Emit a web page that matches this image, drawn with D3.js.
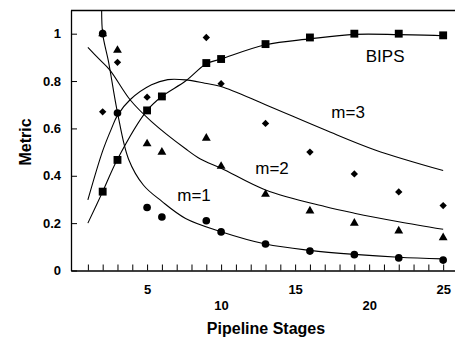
<!DOCTYPE html>
<html>
<head>
<meta charset="utf-8">
<script src="https://cdn.jsdelivr.net/npm/d3@7"></script>
<style>
  body { margin: 0; background: #fff; }
  svg { display: block; font-family: "Liberation Sans", Arial, Helvetica, sans-serif; }
</style>
</head>
<body>
<svg></svg>
<script>
// measured points (pipeline depth vs. normalized metric)
const stages = [2, 3, 5, 6, 9, 10, 13, 16, 19, 22, 25];
const bips = [0.333, 0.467, 0.676, 0.735, 0.876, 0.893, 0.956, 0.984, 1.0, 1.0, 0.993];
const m1 = [1.0, 0.665, 0.266, 0.226, 0.21, 0.163, 0.112, 0.082, 0.067, 0.053, 0.044];
const m2 = [1.0, 0.93, 0.535, 0.5, 0.559, 0.44, 0.322, 0.252, 0.2, 0.167, 0.139];
const m3 = [0.67, 0.879, 0.732, 0.735, 0.984, 0.789, 0.621, 0.5, 0.408, 0.332, 0.274];

// fitted curves
const bipsFitX = [1, 2, 3, 5, 6, 7.6, 9, 10, 13, 16, 19, 22, 25];
const bipsFitY = [0.2, 0.333, 0.47, 0.676, 0.735, 0.8, 0.873, 0.893, 0.953, 0.978, 0.997, 0.996, 0.991];
const m1FitX = [1.93, 2, 2.4, 3, 3.75, 4.76, 6, 7.6, 10, 13, 16, 19, 22, 25];
const m1FitY = [1.12, 1.0, 0.88, 0.667, 0.47, 0.36, 0.292, 0.22, 0.164, 0.112, 0.085, 0.068, 0.056, 0.049];
const m2FitX = [1, 1.8, 2.5, 3.85, 5.3, 7.6, 8.6, 10, 13, 17, 19, 22, 25];
const m2FitY = [0.942, 0.89, 0.845, 0.721, 0.629, 0.514, 0.471, 0.432, 0.34, 0.27, 0.242, 0.206, 0.174];
const m3FitX = [1, 2, 2.6, 3, 3.85, 5.3, 6.4, 7.6, 8.9, 10, 13, 17, 20.4, 25];
const m3FitY = [0.298, 0.505, 0.6, 0.655, 0.721, 0.784, 0.806, 0.805, 0.791, 0.777, 0.70, 0.594, 0.509, 0.422];

const majorTicks = [5, 10, 15, 20, 25];
const yTicks = [0, 0.2, 0.4, 0.6, 0.8, 1];
const labels = [
  { text: "BIPS", x: 21.08, y: 0.88 },
  { text: "m=3", x: 18.58, y: 0.644 },
  { text: "m=2", x: 13.44, y: 0.407 },
  { text: "m=1", x: 8.17, y: 0.293 }
];

const width = 455, height = 341;
const svg = d3.select("svg").attr("width", width).attr("height", height);

const x = d3.scaleLinear().domain([-0.14, 25.8]).range([71, 455]);
const y = d3.scaleLinear().domain([0, 1.1]).range([270.5, 10]);

svg.append("clipPath").attr("id", "plot")
  .append("rect").attr("x", 71).attr("y", 10).attr("width", 384).attr("height", 260.5);

// top frame line
svg.append("line")
  .attr("x1", 71).attr("x2", 455).attr("y1", 10.5).attr("y2", 10.5)
  .attr("stroke", "#000").attr("stroke-width", 1.3);

// x axis, minor ticks pointing inward
const xAxis = svg.append("g")
  .attr("transform", "translate(0,270.5)")
  .call(d3.axisBottom(x)
    .tickValues(d3.range(1, 26))
    .tickSizeInner(-6).tickSizeOuter(0).tickPadding(14)
    .tickFormat(d => majorTicks.includes(d) ? d : ""));
xAxis.select(".domain").attr("stroke-width", 1.3);
xAxis.selectAll("text")
  .attr("font-size", 13).attr("font-weight", "bold").attr("fill", "#000")
  .attr("dy", d => (d % 10 === 0 ? 16 : 0) + 9.2);

// y axis
const yAxis = svg.append("g")
  .attr("transform", "translate(71,0)")
  .call(d3.axisLeft(y)
    .tickValues(yTicks)
    .tickSizeInner(-6).tickSizeOuter(0).tickPadding(10)
    .tickFormat(d => d === 0 || d === 1 ? d3.format("d")(d) : d3.format(".1f")(d)));
yAxis.select(".domain").attr("stroke-width", 1.3);
yAxis.selectAll("text").attr("font-size", 13).attr("font-weight", "bold").attr("fill", "#000");

// axis titles
svg.append("text")
  .attr("x", 266).attr("y", 334)
  .attr("text-anchor", "middle")
  .attr("font-size", 16).attr("font-weight", "bold")
  .text("Pipeline Stages");
svg.append("text")
  .attr("transform", "translate(31,142) rotate(-90)")
  .attr("text-anchor", "middle")
  .attr("font-size", 16).attr("font-weight", "bold")
  .text("Metric");

// fitted curves
const line = d3.line()
  .x(d => x(d[0]))
  .y(d => y(d[1]))
  .curve(d3.curveCatmullRom.alpha(0.5));

const fits = [
  [bipsFitX, bipsFitY],
  [m1FitX, m1FitY],
  [m2FitX, m2FitY],
  [m3FitX, m3FitY]
];
const curves = svg.append("g").attr("clip-path", "url(#plot)");
fits.forEach(([xs, ys]) => {
  curves.append("path")
    .attr("d", line(d3.zip(xs, ys)))
    .attr("fill", "none")
    .attr("stroke", "#000")
    .attr("stroke-width", 1.1);
});

// markers (drawn so circles/squares sit on top, like the original)
const series = [
  { values: m3, type: d3.symbolSquare, size: 27, rotate: 45 },
  { values: m2, type: d3.symbolTriangle, size: 34, rotate: 0 },
  { values: bips, type: d3.symbolSquare, size: 62, rotate: 0 },
  { values: m1, type: d3.symbolCircle, size: 46, rotate: 0 }
];
series.forEach(s => {
  const sym = d3.symbol().type(s.type).size(s.size);
  svg.append("g").selectAll("path")
    .data(d3.zip(stages, s.values))
    .join("path")
    .attr("transform", d => `translate(${x(d[0])},${y(d[1])}) rotate(${s.rotate})`)
    .attr("d", sym)
    .attr("fill", "#000");
});

// curve labels
svg.append("g").selectAll("text")
  .data(labels)
  .join("text")
  .attr("x", d => x(d.x))
  .attr("y", d => y(d.y))
  .attr("text-anchor", "middle")
  .attr("font-size", 17)
  .text(d => d.text);
</script>
</body>
</html>
